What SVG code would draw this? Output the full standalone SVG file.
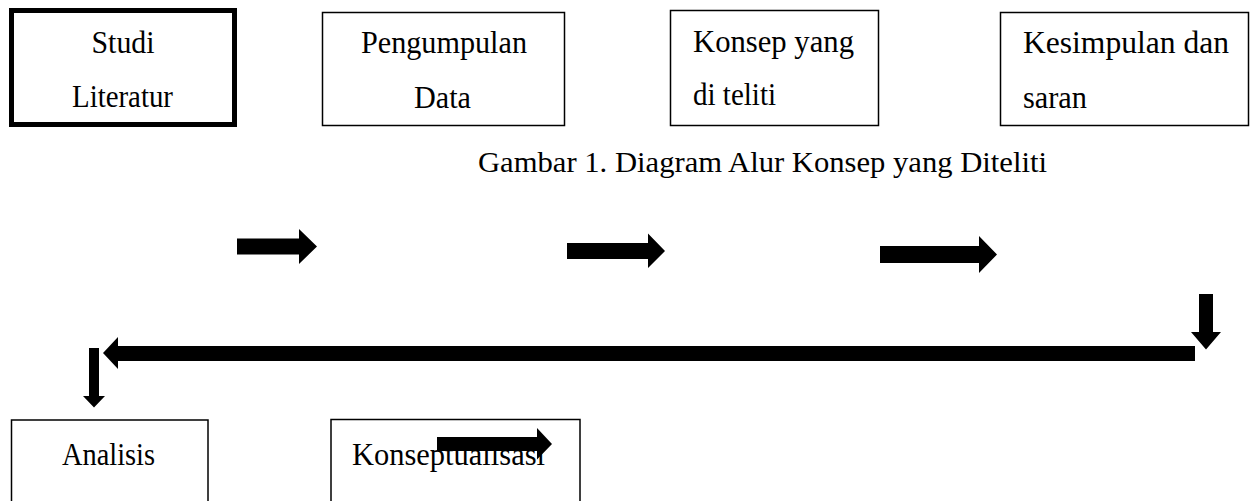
<svg xmlns="http://www.w3.org/2000/svg" width="1250" height="501" viewBox="0 0 1250 501">
<style>
.box{fill:#fff;stroke:#000;stroke-width:1.5}
.thick{stroke-width:5}
.t{font-family:"Liberation Serif","Times New Roman",serif;font-size:31px;fill:#000}
.cap{font-family:"Liberation Serif","Times New Roman",serif;font-size:30px;fill:#000}
.arr{fill:#000}
</style>
<rect width="1250" height="501" fill="#fff"/>
<g id="studi-literatur">
<rect class="box thick" x="11.5" y="10.5" width="223" height="114"/>
<text class="t" x="91.5" y="53" textLength="63" lengthAdjust="spacingAndGlyphs">Studi</text>
<text class="t" x="72" y="107" textLength="101" lengthAdjust="spacingAndGlyphs">Literatur</text>
</g>
<g id="pengumpulan-data">
<rect class="box" x="322.5" y="12.5" width="242" height="113"/>
<text class="t" x="361" y="53" textLength="166" lengthAdjust="spacingAndGlyphs">Pengumpulan</text>
<text class="t" x="414" y="108" textLength="57" lengthAdjust="spacingAndGlyphs">Data</text>
</g>
<g id="konsep-diteliti">
<rect class="box" x="670.5" y="10.5" width="208" height="115"/>
<text class="t" x="693" y="52" textLength="161" lengthAdjust="spacingAndGlyphs">Konsep yang</text>
<text class="t" x="693" y="105" textLength="83" lengthAdjust="spacingAndGlyphs">di teliti</text>
</g>
<g id="kesimpulan-saran">
<rect class="box" x="1000.5" y="12.5" width="248" height="113"/>
<text class="t" x="1023" y="53" textLength="206" lengthAdjust="spacingAndGlyphs">Kesimpulan  dan</text>
<text class="t" x="1023" y="108" textLength="64" lengthAdjust="spacingAndGlyphs">saran</text>
</g>
<g id="caption">
<text class="cap" x="478" y="172" textLength="569" lengthAdjust="spacingAndGlyphs">Gambar  1. Diagram  Alur  Konsep yang  Diteliti</text>
</g>
<g id="analisis">
<rect class="box" x="11.5" y="420" width="196.5" height="100"/>
<text class="t" x="62" y="465" textLength="93" lengthAdjust="spacingAndGlyphs">Analisis</text>
</g>
<g id="konseptualisasi">
<rect class="box" x="331" y="419.5" width="249" height="100"/>
<text class="t" x="352" y="465" textLength="193" lengthAdjust="spacingAndGlyphs">Konseptualisasi</text>
</g>
<g id="connectors">
<polygon class="arr" points="237,238.5 299,238.5 299,229 317,246.5 299,264 299,254.5 237,254.5"/>
<polygon class="arr" points="567,243 648,243 648,233.5 665,251 648,268 648,259 567,259"/>
<polygon class="arr" points="880,246 979,246 979,236 997,254.5 979,273 979,263 880,263"/>
<polygon class="arr" points="1199,294 1213,294 1213,332 1221,332 1206,349.5 1191,332 1199,332"/>
<polygon class="arr" points="1195,346 118,346 118,337 103,353 118,369 118,361 1195,361"/>
<polygon class="arr" points="89,348 99,348 99,396 105,396 94,407.5 83,396 89,396"/>
<polygon class="arr" points="437,437 537,437 537,428 552,444 537,459.5 537,451 437,451"/>
</g>
</svg>
